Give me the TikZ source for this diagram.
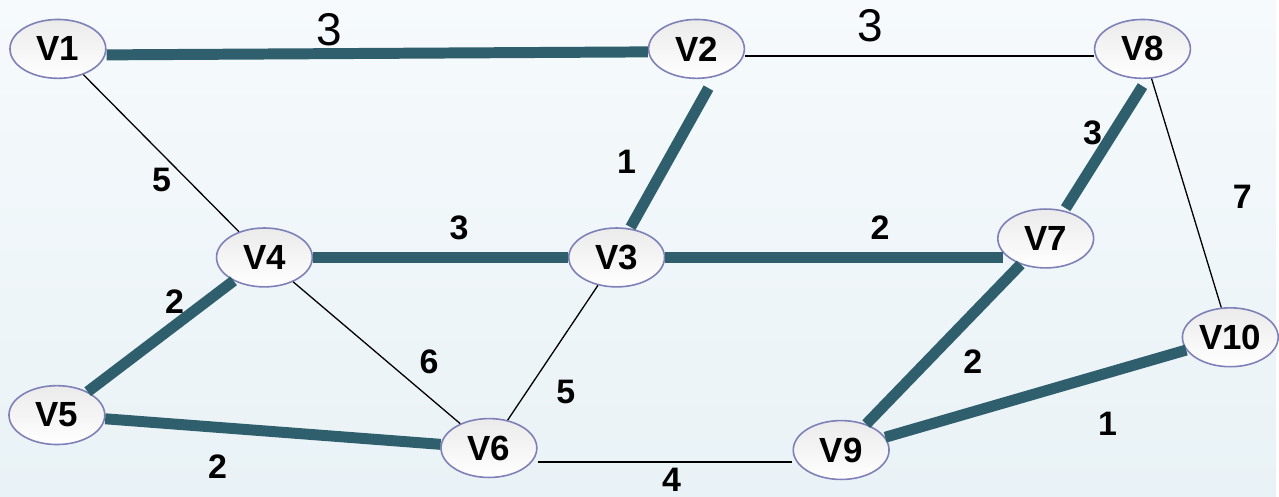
\documentclass[tikz,border=0pt]{standalone}
\usepackage{fontspec}
\setmainfont{Liberation Sans}
\usetikzlibrary{shapes.geometric}
\definecolor{bgtop}{HTML}{F6FAFC}
\definecolor{bgbot}{HTML}{E9F2F6}
\definecolor{vborder}{HTML}{8080B8}
\definecolor{treeedge}{HTML}{2F5E6C}
\begin{document}
\begin{tikzpicture}[x=1pt,y=-1pt,
  vert/.style={ellipse, draw=vborder, line width=1.6pt, top color=gray!16, bottom color=white,
    minimum width=96pt, minimum height=59pt, inner sep=0pt,
    font=\fontsize{35}{35}\selectfont\bfseries},
  tree/.style={treeedge, line width=11pt},
  thin/.style={black, line width=1.3pt},
  wlab/.style={font=\fontsize{34}{34}\selectfont\bfseries},
  toplab/.style={font=\fontsize{46}{46}\selectfont}]
\fill[top color=bgtop, bottom color=bgbot] (0,0) rectangle (1279,498);
% vertices
\node[vert] (v1) at (58,49) {V1};
\node[vert] (v2) at (698,49) {V2};
\node[vert] (v8) at (1145,49) {V8};
\node[vert] (v4) at (265,258) {V4};
\node[vert] (v3) at (618,258) {V3};
\node[vert] (v7) at (1048,239) {V7};
\node[vert] (v10) at (1233,338) {V10};
\node[vert] (v5) at (57,416) {V5};
\node[vert] (v6) at (490,449) {V6};
\node[vert] (v9) at (843,451) {V9};
% edges
\draw[tree] ([yshift=-6pt]v1.east) -- ([yshift=-3pt]v2.west);
\draw[thin] ([yshift=-7pt]v2.east) -- ([yshift=-7pt]v8.west);
\draw[thin] (v1) -- (v4);
\draw[tree] ([xshift=12pt,yshift=-9pt]v2.south) -- ([xshift=14pt]v3.north);
\draw[tree] ([yshift=-7pt]v8.south) -- ([xshift=20pt]v7.north);
\draw[thin] (v8) -- (v10);
\draw[tree] (v4) -- (v3);
\draw[tree] (v3) -- ([xshift=6pt]v3 -| v7.west);
\draw[tree] (v4) -- (v5);
\draw[thin] (v4) -- (v6);
\draw[thin] (v3) -- (v6);
\draw[tree] (v7) -- (v9);
\draw[tree] (v9) -- (v10);
\draw[tree] (v5) -- (v6);
\draw[thin] ([yshift=-14pt]v6.east) -- ([yshift=-12pt]v9.west);
% weights
\node[toplab] (w12) at (330,30) {3};
\node[toplab] (w28) at (872,26) {3};
\node[wlab] (w14) at (162,180) {5};
\node[wlab] (w23) at (628,162) {1};
\node[wlab] (w87) at (1095,133) {3};
\node[wlab] (w810) at (1245,197) {7};
\node[wlab] (w43) at (460,228) {3};
\node[wlab] (w37) at (882,228) {2};
\node[wlab] (w45) at (175,302) {2};
\node[wlab] (w46) at (430,363) {6};
\node[wlab] (w36) at (567,393) {5};
\node[wlab] (w79) at (975,362) {2};
\node[wlab] (w910) at (1110,425) {1};
\node[wlab] (w56) at (218,468) {2};
\node[wlab] (w69) at (673,481) {4};
\end{tikzpicture}
\end{document}
